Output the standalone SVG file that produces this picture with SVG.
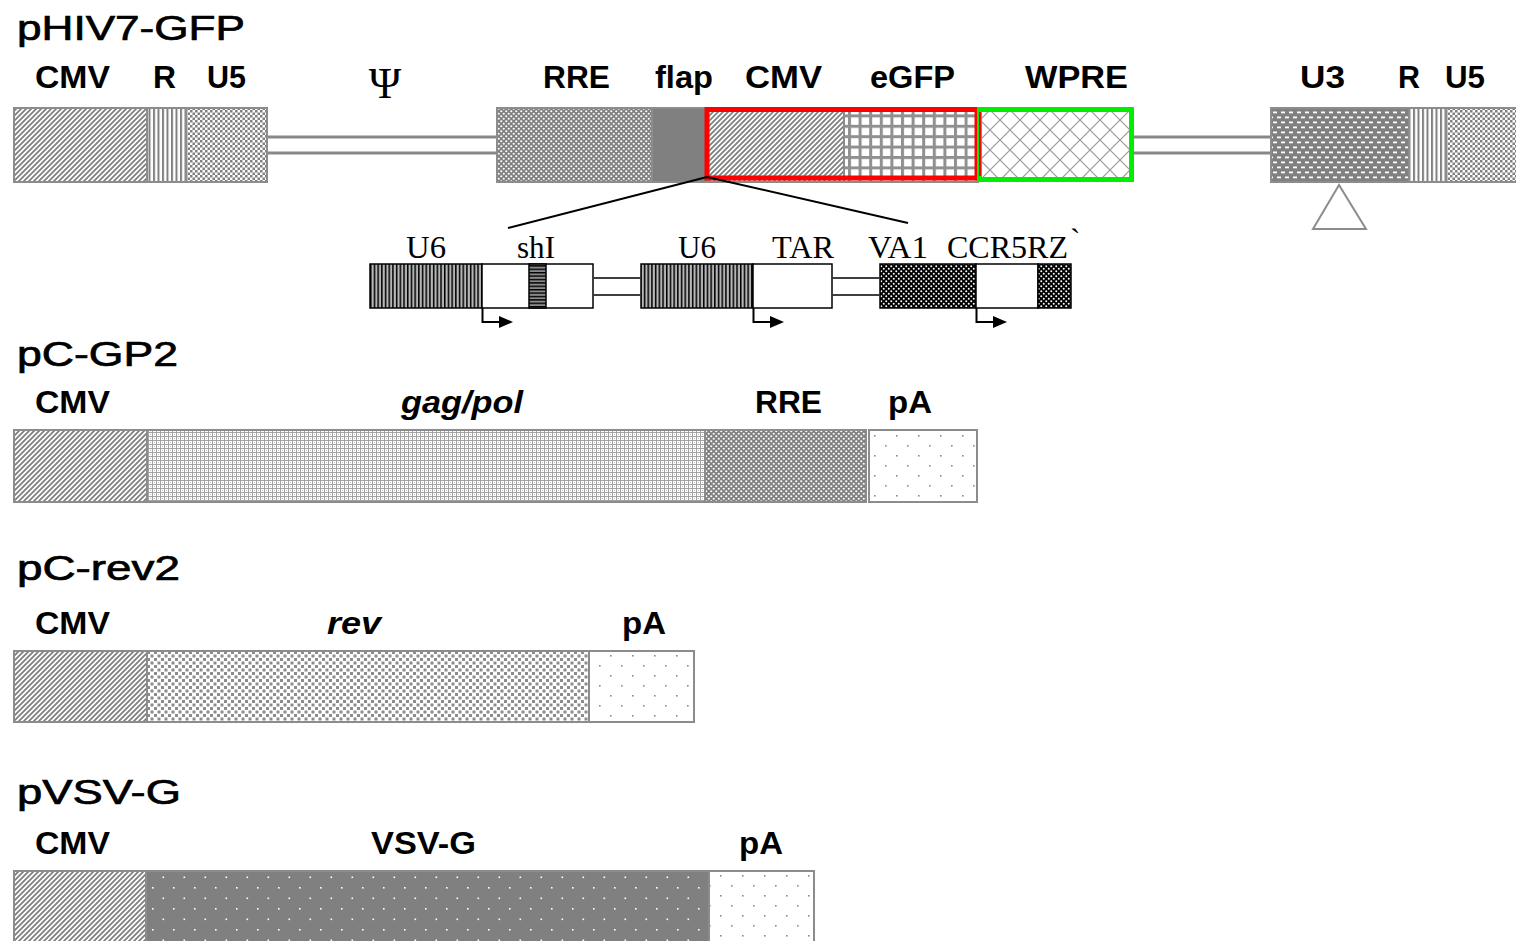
<svg xmlns="http://www.w3.org/2000/svg" width="1516" height="941" viewBox="0 0 1516 941">
<style>
.title{font-family:"Liberation Sans",Arial,sans-serif;font-size:35px;fill:#000;stroke:#000;stroke-width:0.7}
.lab{font-family:"Liberation Sans",Arial,sans-serif;font-size:31px;font-weight:bold;fill:#000}
.it{font-style:italic}
.tlab{font-family:"Liberation Serif","Times New Roman",serif;font-size:31px;fill:#000}
.seg{stroke:#8c8c8c;stroke-width:2}
.iseg{stroke:#000;stroke-width:1.5}
.dl{stroke:#888;stroke-width:3;fill:none}
.idl{stroke:#000;stroke-width:1.5;fill:none}
.conn{stroke:#000;stroke-width:2;fill:none}
</style>
<defs>
<pattern id="pCMV" width="5" height="5" patternUnits="userSpaceOnUse">
<rect width="5" height="5" fill="#fff"/>
<path d="M-1,6 L6,-1 M-3.5,3.5 L3.5,-3.5 M1.5,8.5 L8.5,1.5" stroke="#808080" stroke-width="1.8"/>
</pattern>
<pattern id="pR" width="4.5" height="4" patternUnits="userSpaceOnUse">
<rect width="4.5" height="4" fill="#fff"/>
<rect width="2" height="4" fill="#808080"/>
</pattern>
<pattern id="pU5" width="5" height="5" patternUnits="userSpaceOnUse">
<rect width="5" height="5" fill="#fff"/>
<rect width="2.5" height="2.5" fill="#808080"/>
<rect x="2.5" y="2.5" width="2.5" height="2.5" fill="#808080"/>
</pattern>
<pattern id="pRRE" width="5" height="5" patternUnits="userSpaceOnUse">
<rect width="5" height="5" fill="#808080"/>
<circle cx="1.25" cy="1.25" r="1.1" fill="#fff"/>
<circle cx="3.75" cy="3.75" r="1.1" fill="#fff"/>
</pattern>
<pattern id="pGFP" width="10.6" height="10.4" patternUnits="userSpaceOnUse">
<rect width="10.6" height="10.4" fill="#fff"/>
<rect width="10.6" height="3" fill="#909090"/>
<rect width="3" height="10.4" fill="#909090"/>
</pattern>
<pattern id="pWPRE" width="20" height="20" patternUnits="userSpaceOnUse">
<rect width="20" height="20" fill="#fff"/>
<path d="M0,0 L20,20 M20,0 L0,20" stroke="#9a9a9a" stroke-width="1.2"/>
</pattern>
<pattern id="pU3" width="8" height="10" patternUnits="userSpaceOnUse">
<rect width="8" height="10" fill="#808080"/>
<rect x="1" y="1.5" width="4" height="1.8" fill="#fff"/>
<rect x="5" y="6.5" width="3" height="1.8" fill="#fff"/>
<rect x="0" y="6.5" width="1" height="1.8" fill="#fff"/>
</pattern>
<pattern id="pGag" width="4" height="4" patternUnits="userSpaceOnUse">
<rect width="4" height="4" fill="#fff"/>
<rect width="4" height="0.9" fill="#9a9a9a"/>
<rect width="0.9" height="4" fill="#9a9a9a"/>
<rect x="2" y="2" width="0.9" height="0.9" fill="#b0b0b0"/>
</pattern>
<pattern id="pA" width="22" height="20" patternUnits="userSpaceOnUse">
<rect width="22" height="20" fill="#fff"/>
<rect x="5" y="5" width="1.6" height="1.6" fill="#8c8c8c"/>
<rect x="16" y="15" width="1.6" height="1.6" fill="#8c8c8c"/>
</pattern>
<pattern id="pRev" width="7" height="7" patternUnits="userSpaceOnUse">
<rect width="7" height="7" fill="#fff"/>
<rect x="0" y="0" width="3" height="3" fill="#8c8c8c"/>
<rect x="3.5" y="3.5" width="3" height="3" fill="#8c8c8c"/>
</pattern>
<pattern id="pVSV" width="21" height="21" patternUnits="userSpaceOnUse">
<rect width="21" height="21" fill="#808080"/>
<rect x="5" y="5" width="1.6" height="1.6" fill="#fff"/>
<rect x="15.5" y="15.5" width="1.6" height="1.6" fill="#fff"/>
</pattern>
<pattern id="pU6" width="3.7" height="4" patternUnits="userSpaceOnUse">
<rect width="3.7" height="4" fill="#8a8a8a"/>
<rect width="1.4" height="4" fill="#000"/>
<rect x="2.4" width="0.7" height="4" fill="#fff"/>
</pattern>
<pattern id="pShI" width="4" height="3.4" patternUnits="userSpaceOnUse">
<rect width="4" height="3.4" fill="#8a8a8a"/>
<rect width="4" height="1.4" fill="#000"/>
</pattern>
<pattern id="pVA" width="5" height="5" patternUnits="userSpaceOnUse">
<rect width="5" height="5" fill="#000"/>
<circle cx="1.25" cy="1.25" r="1" fill="#fff"/>
<circle cx="3.75" cy="3.75" r="1" fill="#fff"/>
</pattern>
<marker id="arr" markerWidth="14" markerHeight="12" refX="0" refY="6" orient="auto" markerUnits="userSpaceOnUse" viewBox="0 0 14 12">
<path d="M0,0 L14,6 L0,12 Z" fill="#000"/>
</marker>
</defs>
<rect width="1516" height="941" fill="#fff"/>

<!-- pHIV7-GFP -->
<g id="pHIV7-GFP">
<text class="title" x="17" y="40" textLength="228" lengthAdjust="spacingAndGlyphs">pHIV7-GFP</text>
<text class="lab" x="35" y="88" textLength="75" lengthAdjust="spacingAndGlyphs">CMV</text>
<text class="lab" x="153" y="88" textLength="23" lengthAdjust="spacingAndGlyphs">R</text>
<text class="lab" x="207" y="88" textLength="39" lengthAdjust="spacingAndGlyphs">U5</text>
<text x="385" y="98" text-anchor="middle" font-family="Liberation Serif, serif" font-size="44">Ψ</text>
<text class="lab" x="543" y="88" textLength="67" lengthAdjust="spacingAndGlyphs">RRE</text>
<text class="lab" x="655" y="88" textLength="58" lengthAdjust="spacingAndGlyphs">flap</text>
<text class="lab" x="745" y="88" textLength="77" lengthAdjust="spacingAndGlyphs">CMV</text>
<text class="lab" x="870" y="88" textLength="85" lengthAdjust="spacingAndGlyphs">eGFP</text>
<text class="lab" x="1025" y="88" textLength="103" lengthAdjust="spacingAndGlyphs">WPRE</text>
<text class="lab" x="1300" y="88" textLength="45" lengthAdjust="spacingAndGlyphs">U3</text>
<text class="lab" x="1398" y="88" textLength="22" lengthAdjust="spacingAndGlyphs">R</text>
<text class="lab" x="1445" y="88" textLength="40" lengthAdjust="spacingAndGlyphs">U5</text>
<rect class="seg" x="14" y="108" width="133" height="74" fill="url(#pCMV)"/>
<rect class="seg" x="147" y="108" width="39" height="74" fill="url(#pR)"/>
<rect class="seg" x="186" y="108" width="81" height="74" fill="url(#pU5)"/>
<rect class="seg" x="497" y="108" width="155" height="74" fill="url(#pRRE)"/>
<rect class="seg" x="652" y="108" width="55" height="74" fill="#808080"/>
<rect class="seg" x="707" y="108" width="137" height="74" fill="url(#pCMV)"/>
<rect class="seg" x="844" y="108" width="134" height="74" fill="url(#pGFP)"/>
<rect x="978" y="108" width="154" height="74" fill="url(#pWPRE)"/>
<rect x="707" y="109.5" width="270" height="68.5" fill="none" stroke="#ff0000" stroke-width="5"/>
<rect x="979.5" y="109.5" width="152" height="70" fill="none" stroke="#00ee00" stroke-width="5"/>
<line x1="980" y1="112" x2="980" y2="176" stroke="#ff0000" stroke-width="2"/>
<rect class="seg" x="1271" y="108" width="138" height="74" fill="url(#pU3)"/>
<rect class="seg" x="1409" y="108" width="37" height="74" fill="url(#pR)"/>
<rect class="seg" x="1446" y="108" width="72" height="74" fill="url(#pU5)"/>
<polygon points="1339,185 1313,229 1366,229" fill="#fff" stroke="#8c8c8c" stroke-width="2"/>
</g>

<!-- insert -->
<g id="insert">
<text class="tlab" x="406" y="258" textLength="40" lengthAdjust="spacingAndGlyphs">U6</text>
<text class="tlab" x="517" y="258" textLength="38" lengthAdjust="spacingAndGlyphs">shI</text>
<text class="tlab" x="678" y="258" textLength="38" lengthAdjust="spacingAndGlyphs">U6</text>
<text class="tlab" x="772" y="258" textLength="62" lengthAdjust="spacingAndGlyphs">TAR</text>
<text class="tlab" x="868" y="258" textLength="60" lengthAdjust="spacingAndGlyphs">VA1</text>
<text class="tlab" x="947" y="258" textLength="121" lengthAdjust="spacingAndGlyphs">CCR5RZ</text>
<text class="tlab" x="1070" y="250">`</text>
<rect class="iseg" x="370" y="264" width="112" height="44" fill="url(#pU6)"/>
<rect class="iseg" x="482" y="264" width="111" height="44" fill="#fff"/>
<rect class="iseg" x="529" y="264" width="17" height="44" fill="url(#pShI)"/>
<rect class="iseg" x="641" y="264" width="112" height="44" fill="url(#pU6)"/>
<rect class="iseg" x="753" y="264" width="79" height="44" fill="#fff"/>
<rect class="iseg" x="880" y="264" width="96" height="44" fill="url(#pVA)"/>
<rect class="iseg" x="976" y="264" width="62" height="44" fill="#fff"/>
<rect class="iseg" x="1038" y="264" width="33" height="44" fill="url(#pVA)"/>
</g>

<!-- pC-GP2 -->
<g id="pC-GP2">
<text class="title" x="17" y="366" textLength="161" lengthAdjust="spacingAndGlyphs">pC-GP2</text>
<text class="lab" x="35" y="413" textLength="75" lengthAdjust="spacingAndGlyphs">CMV</text>
<text class="lab it" x="401" y="413" textLength="122" lengthAdjust="spacingAndGlyphs">gag/pol</text>
<text class="lab" x="755" y="413" textLength="67" lengthAdjust="spacingAndGlyphs">RRE</text>
<text class="lab" x="888" y="413" textLength="44" lengthAdjust="spacingAndGlyphs">pA</text>
<rect class="seg" x="14" y="430" width="133" height="72" fill="url(#pCMV)"/>
<rect class="seg" x="147" y="430" width="558" height="72" fill="url(#pGag)"/>
<rect class="seg" x="705" y="430" width="161" height="72" fill="url(#pRRE)"/>
<rect class="seg" x="869" y="430" width="108" height="72" fill="url(#pA)"/>
</g>

<!-- pC-rev2 -->
<g id="pC-rev2">
<text class="title" x="17" y="580" textLength="163" lengthAdjust="spacingAndGlyphs">pC-rev2</text>
<text class="lab" x="35" y="634" textLength="75" lengthAdjust="spacingAndGlyphs">CMV</text>
<text class="lab it" x="327" y="634" textLength="54" lengthAdjust="spacingAndGlyphs">rev</text>
<text class="lab" x="622" y="634" textLength="44" lengthAdjust="spacingAndGlyphs">pA</text>
<rect class="seg" x="14" y="651" width="133" height="71" fill="url(#pCMV)"/>
<rect class="seg" x="147" y="651" width="442" height="71" fill="url(#pRev)"/>
<rect class="seg" x="589" y="651" width="105" height="71" fill="url(#pA)"/>
</g>

<!-- pVSV-G -->
<g id="pVSV-G">
<text class="title" x="17" y="804" textLength="164" lengthAdjust="spacingAndGlyphs">pVSV-G</text>
<text class="lab" x="35" y="854" textLength="75" lengthAdjust="spacingAndGlyphs">CMV</text>
<text class="lab" x="371" y="854" textLength="105" lengthAdjust="spacingAndGlyphs">VSV-G</text>
<text class="lab" x="739" y="854" textLength="44" lengthAdjust="spacingAndGlyphs">pA</text>
<rect class="seg" x="14" y="871" width="132" height="74" fill="url(#pCMV)"/>
<rect class="seg" x="146" y="871" width="563" height="74" fill="url(#pVSV)"/>
<rect class="seg" x="709" y="871" width="105" height="74" fill="url(#pA)"/>
</g>

<!-- connectors -->
<g id="connectors">
<path class="dl" d="M268,137 H496 M268,153 H496"/>
<path class="dl" d="M1133,137 H1270 M1133,153 H1270"/>
<path class="conn" d="M707,177 L508,228 M707,177 L908,223"/>
<path class="idl" d="M593.75,278 H640.25 M593.75,295 H640.25"/>
<path class="idl" d="M832.75,278 H879.25 M832.75,295 H879.25"/>
<path class="conn" d="M482.5,308 V322 H499" marker-end="url(#arr)"/>
<path class="conn" d="M753.5,308 V322 H770" marker-end="url(#arr)"/>
<path class="conn" d="M976.5,308 V322 H993" marker-end="url(#arr)"/>
</g>
</svg>
